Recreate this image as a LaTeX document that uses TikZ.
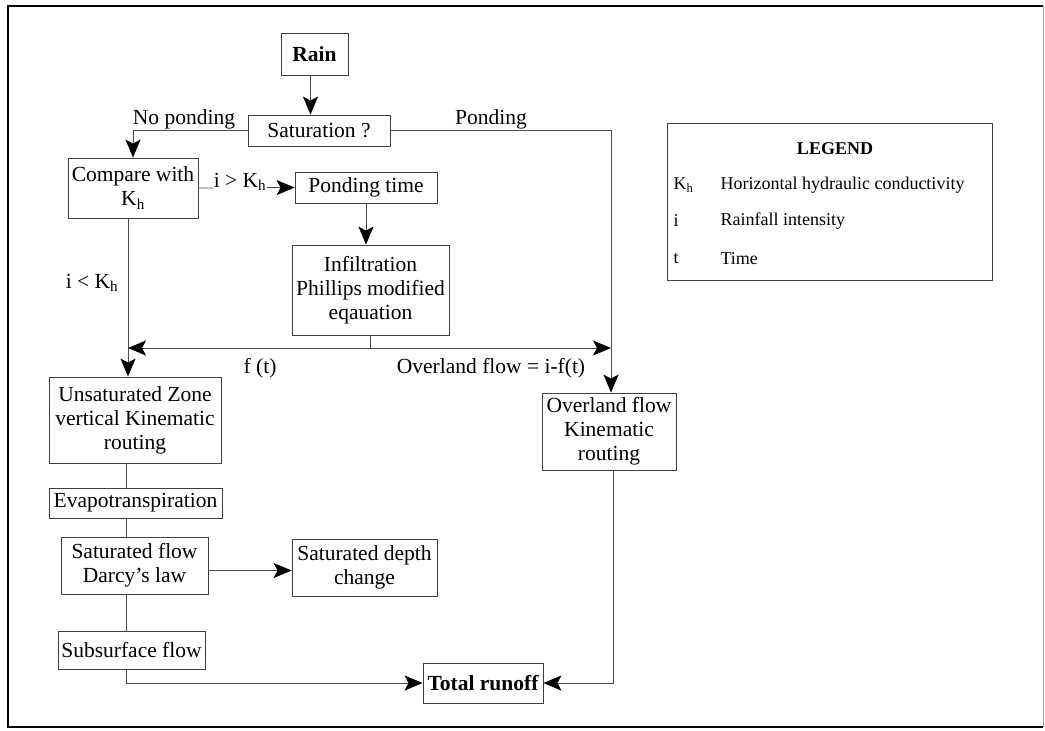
\documentclass[tikz,border=0pt]{standalone}
\usepackage{fontspec}
\setmainfont{Liberation Serif}
\usetikzlibrary{arrows.meta}
\begin{document}
\begin{tikzpicture}[x=1pt,y=-1pt,
  every node/.style={font=\fontsize{21.5}{24}\selectfont},
  box/.style={draw=black!75, line width=0.8pt, align=center, inner sep=0pt},
  conn/.style={draw=black!70, line width=0.8pt},
  arr/.style={conn, -{Stealth[length=18pt,width=15pt,inset=4pt,black]}},
  lab/.style={inner sep=1pt},
  legtext/.style={font=\fontsize{18}{20}\selectfont, anchor=west}]
\useasboundingbox (0,0) rectangle (1045,731);
% frame
\draw[line width=2.2pt] (1043,6) -- (8,6) -- (8,727) -- (1043,727);
\draw[line width=0.5pt, black!35] (1043,6) -- (1043,727);
% nodes
\node[box, minimum width=67pt, minimum height=42pt, font=\fontsize{21.5}{24}\selectfont\bfseries] (rain) at (314.5,54) {Rain};
\node[box, minimum width=142pt, minimum height=31pt] (sat) at (319,130.5) {Saturation ?};
\node[box, minimum width=130pt, minimum height=60pt] (cmp) at (133,188) {Compare with\\K\textsubscript{h}};
\node[box, minimum width=142pt, minimum height=31pt] (pt) at (366,187.5) {Ponding time};
\node[box, minimum width=157pt, minimum height=90pt] (inf) at (370.5,290) {Infiltration\\Phillips modified\\eqauation};
\node[box, minimum width=172pt, minimum height=86pt] (unsat) at (135,420) {Unsaturated Zone\\vertical Kinematic\\routing};
\node[box, minimum width=173pt, minimum height=30pt] (evap) at (135.5,503) {Evapotranspiration};
\node[box, minimum width=147pt, minimum height=57pt] (sflow) at (134.5,565.5) {Saturated flow\\Darcy’s law};
\node[box, minimum width=145pt, minimum height=57pt] (sdepth) at (364.5,567.5) {Saturated depth\\change};
\node[box, minimum width=147pt, minimum height=38pt] (sub) at (131.5,650) {Subsurface flow};
\node[box, minimum width=120pt, minimum height=40pt, font=\fontsize{21.5}{24}\selectfont\bfseries] (total) at (483,683) {Total runoff};
\node[box, minimum width=134pt, minimum height=77pt] (over) at (609,431.5) {Overland flow\\Kinematic\\routing};
% legend
\node[box, minimum width=325pt, minimum height=157pt] (leg) at (829.5,201.5) {};
\node[font=\fontsize{18}{20}\selectfont\bfseries] (legt) at (835,149) {LEGEND};
\node[legtext] (lk) at (670,185) {K\textsubscript{h}};
\node[legtext] (lkd) at (717,185) {Horizontal hydraulic conductivity};
\node[legtext] (li) at (670,221) {i};
\node[legtext] (lid) at (717,221) {Rainfall intensity};
\node[legtext] (lt) at (670,259) {t};
\node[legtext] (ltd) at (717,259) {Time};
% coordinates for the f(t) split
\coordinate (fl) at (128,348);
\coordinate (fr) at (611,348);
% connectors
\draw[arr] ([xshift=-4pt]rain.south) -- ([xshift=-4pt]rain.south |- sat.north);
\draw[arr] (sat.west) -| (cmp.north);
\draw[arr] (sat.east) -| ([xshift=2pt]over.north);
\draw[arr] (cmp.east) -- (pt.west);
\draw[arr] (pt.south) -- (pt.south |- inf.north);
\draw[arr] ([xshift=-5pt]cmp.south) -- ([xshift=-5pt]cmp.south |- unsat.north);
\draw[arr] (inf.south) |- (fl);
\draw[arr] (inf.south) |- (fr);
\draw[conn] ([xshift=-9pt]unsat.south) -- ([xshift=-9pt]unsat.south |- evap.north);
\draw[conn] ([xshift=-9.5pt]evap.south) -- ([xshift=-9.5pt]evap.south |- sflow.north);
\draw[arr] ([yshift=-5pt]sflow.east) -- ([yshift=-5pt]sflow.east -| sdepth.west);
\draw[conn] ([xshift=-8.5pt]sflow.south) -- ([xshift=-8.5pt]sflow.south |- sub.north);
\draw[arr] ([xshift=-5.5pt]sub.south) |- (total.west);
\draw[arr] ([xshift=4pt]over.south) |- (total.east);
% labels
\node[lab] (lnp) at (184,119) {No ponding};
\node[lab] (lp) at (491,119) {Ponding};
\node[lab, fill=white] (lgt) at (240,182) {i > K\textsubscript{h}};
\node[lab] (llt) at (92,283) {i < K\textsubscript{h}};
\node[lab] (lft) at (260,368) {f (t)};
\node[lab] (lof) at (491,368) {Overland flow = i-f(t)};
\end{tikzpicture}
\end{document}
